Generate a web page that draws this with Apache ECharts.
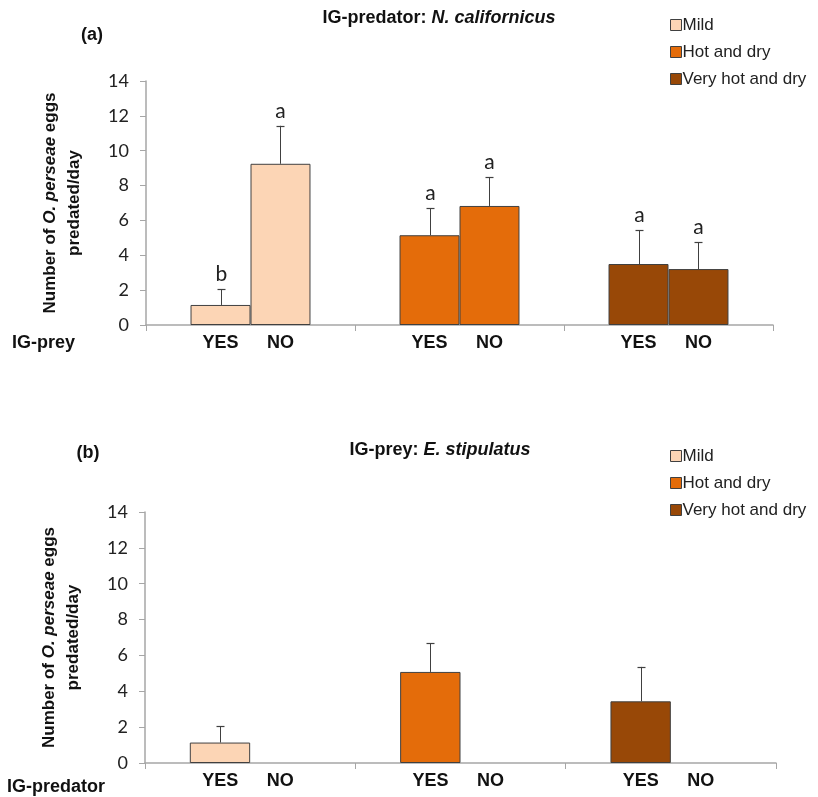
<!DOCTYPE html>
<html><head><meta charset="utf-8">
<script src="https://cdn.jsdelivr.net/npm/echarts@6/dist/echarts.min.js"></script>
<style>html,body{margin:0;padding:0;background:#fff}#c{width:818px;height:797px}</style>
</head><body><div id="c"></div>
<script>
// ---- data ----
const categories = ['Mild', 'Hot and dry', 'Very hot and dry'];
const yTicks = [0, 2, 4, 6, 8, 10, 12, 14];
// panel (a): IG-predator N. californicus, with / without IG-prey
const aYes = [1.15, 5.15, 3.50];
const aYesErr = [0.90, 1.55, 1.93];
const aYesLetters = ['b', 'a', 'a'];
const aNo = [9.25, 6.83, 3.21];
const aNoErr = [2.18, 1.64, 1.53];
const aNoLetters = ['a', 'a', 'a'];
// panel (b): IG-prey E. stipulatus, with / without IG-predator
const bYes = [1.14, 5.08, 3.44];
const bYesErr = [0.92, 1.60, 1.92];
const bNo = [0, 0, 0];

// ---- styles ----
const palette = ['#FCD5B5', '#E46C0A', '#984807'];
const edge = '#404040';
const BAR_FRAC = 0.287;
const bold = 'Liberation Sans, Arial, sans-serif';
const numFont = 'Lato, Carlito, sans-serif';

const chart = echarts.init(document.getElementById('c'));

function barData(vals) {
  return vals.map((v, i) => ({ value: v, itemStyle: { color: palette[i], borderColor: edge, borderWidth: v === 0 ? 0 : 1 } }));
}
function errSeries(vals, errs, letters, side, gi) {
  return {
    type: 'custom', xAxisIndex: gi, yAxisIndex: gi, z: 5, silent: true,
    data: vals.map((v, i) => [i, v, errs[i]]),
    renderItem: function (params, api) {
      const i = api.value(0), v = api.value(1), e = api.value(2);
      const band = api.size([1, 0])[0];
      const off = side * band * BAR_FRAC / 2;
      const p0 = api.coord([i, v]);
      const p1 = api.coord([i, v + e]);
      const x = Math.round(p0[0] + off) + 0.5;
      const children = [
        { type: 'line', shape: { x1: x, y1: p0[1], x2: x, y2: p1[1] }, style: { stroke: edge, lineWidth: 1 } },
        { type: 'line', shape: { x1: x - 4, y1: Math.round(p1[1]) + 0.5, x2: x + 4, y2: Math.round(p1[1]) + 0.5 }, style: { stroke: edge, lineWidth: 1.2 } }
      ];
      if (letters) {
        children.push({ type: 'text', x: x, y: p1[1] - 15, style: { text: letters[params.dataIndex], fill: '#222', font: '21px ' + numFont, align: 'center', verticalAlign: 'middle' } });
      }
      return { type: 'group', children: children };
    }
  };
}
function xAxis(gi) {
  return {
    type: 'category', gridIndex: gi, data: categories,
    axisLine: { lineStyle: { color: '#A6A6A6', width: 1.5 } },
    axisTick: { show: true, length: 6, lineStyle: { color: '#A6A6A6' } },
    axisLabel: {
      interval: 0, margin: 9,
      formatter: function () { return '{y|YES}{n|NO}'; },
      rich: {
        y: { width: 60, align: 'center', fontWeight: 'bold', fontSize: 18, fontFamily: bold, color: '#111' },
        n: { width: 60, align: 'center', fontWeight: 'bold', fontSize: 18, fontFamily: bold, color: '#111' }
      }
    }
  };
}
function yAxis(gi) {
  return {
    type: 'value', gridIndex: gi, min: yTicks[0], max: yTicks[yTicks.length - 1], interval: yTicks[1] - yTicks[0],
    splitLine: { show: false },
    axisLine: { show: true, lineStyle: { color: '#A6A6A6', width: 1.5 } },
    axisTick: { show: true, length: 6, lineStyle: { color: '#A6A6A6' } },
    axisLabel: { fontSize: 18, fontFamily: numFont, color: '#222', margin: 17 },
    name: '{b|Number of }{i|O. perseae}{b| eggs}\n{b|predated/day}',
    nameLocation: 'middle', nameGap: 60,
    nameTextStyle: {
      lineHeight: 24,
      rich: {
        b: { fontWeight: 'bold', fontSize: 17, fontFamily: bold, color: '#111', lineHeight: 24 },
        i: { fontWeight: 'bold', fontStyle: 'italic', fontSize: 17, fontFamily: bold, color: '#111', lineHeight: 24 }
      }
    }
  };
}
function legend(top) {
  return {
    orient: 'vertical', left: 670, top: top, padding: 0, itemWidth: 11, itemHeight: 11, itemGap: 9,
    itemStyle: { borderColor: edge, borderWidth: 1 },
    textStyle: { fontSize: 17, fontFamily: bold, color: '#222', padding: [0, 0, 0, -4], lineHeight: 18 },
    selectedMode: false,
    data: categories.map(n => ({ name: n, icon: 'rect' }))
  };
}
function titleText(x, y, a, b) {
  return {
    type: 'text', x: x, y: y,
    style: {
      text: '{b|' + a + '}{i|' + b + '}', align: 'center', verticalAlign: 'middle',
      rich: {
        b: { fontWeight: 'bold', fontSize: 18, fontFamily: bold, fill: '#111' },
        i: { fontWeight: 'bold', fontStyle: 'italic', fontSize: 18, fontFamily: bold, fill: '#111' }
      }
    }
  };
}
function plain(x, y, t, size, align) {
  return { type: 'text', x: x, y: y, style: { text: t, font: 'bold ' + size + 'px ' + bold, fill: '#111', align: align || 'left', verticalAlign: 'middle' } };
}

const option = {
  backgroundColor: '#fff',
  animation: false,
  grid: [
    { left: 146, top: 81, width: 627, height: 244 },
    { left: 145, top: 512, width: 631, height: 251 }
  ],
  xAxis: [xAxis(0), xAxis(1)],
  yAxis: [yAxis(0), yAxis(1)],
  legend: [legend(16), legend(447)],
  series: [
    { name: 'YES', type: 'bar', xAxisIndex: 0, yAxisIndex: 0, barWidth: (BAR_FRAC * 100) + '%', barGap: '0%', data: barData(aYes) },
    { name: 'NO', type: 'bar', xAxisIndex: 0, yAxisIndex: 0, barWidth: (BAR_FRAC * 100) + '%', barGap: '0%', data: barData(aNo) },
    errSeries(aYes, aYesErr, aYesLetters, -1, 0),
    errSeries(aNo, aNoErr, aNoLetters, 1, 0),
    { name: 'YES ', type: 'bar', xAxisIndex: 1, yAxisIndex: 1, barWidth: (BAR_FRAC * 100) + '%', barGap: '0%', data: barData(bYes) },
    { name: 'NO ', type: 'bar', xAxisIndex: 1, yAxisIndex: 1, barWidth: (BAR_FRAC * 100) + '%', barGap: '0%', data: barData(bNo) },
    errSeries(bYes, bYesErr, null, -1, 1)
  ].concat(categories.map((n, i) => ({
    name: n, type: 'line', xAxisIndex: 0, yAxisIndex: 0, data: [],
    itemStyle: { color: palette[i], borderColor: edge, borderWidth: 1 },
    lineStyle: { color: palette[i] }
  }))),
  graphic: [
    titleText(439, 18, 'IG-predator: ', 'N. californicus'),
    titleText(440, 450, 'IG-prey: ', 'E. stipulatus'),
    plain(92, 35, '(a)', 18, 'center'),
    plain(88, 453, '(b)', 18, 'center'),
    plain(12, 343, 'IG-prey', 18),
    plain(7, 787, 'IG-predator', 18)
  ]
};
chart.setOption(option);
</script>
</body></html>
